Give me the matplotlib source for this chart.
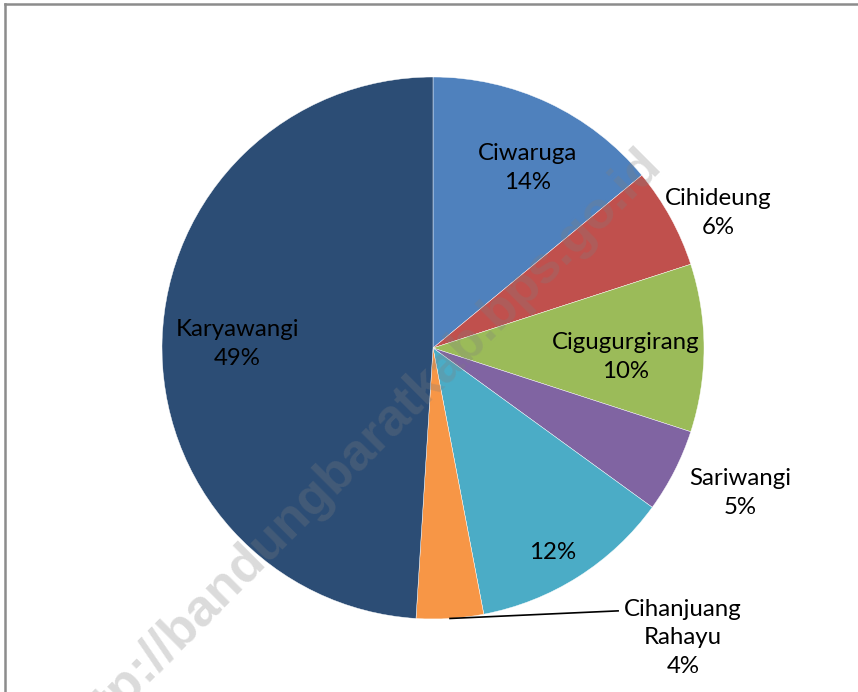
import numpy as np
import matplotlib.pyplot as plt
from matplotlib.lines import Line2D

# Data
desa = ['Ciwaruga', 'Cihideung', 'Cigugurgirang', 'Sariwangi', '',
        'Cihanjuang\nRahayu', 'Karyawangi']
persen = [14, 6, 10, 5, 12, 4, 49]
warna = ['#4F81BD', '#C0504D', '#9BBB59', '#8064A2', '#4BACC6',
         '#F79646', '#2C4D75']

# label positions (data units, radius = 1)
label_pos = [(0.347, 0.664), (1.052, 0.498), (0.712, -0.033),
             (1.133, -0.535), (0.443, -0.756), (0.923, -1.070),
             (-0.723, 0.015)]

fig = plt.figure(figsize=(8.58, 6.92), dpi=100)
R = 271.0
W, H = 858.0, 692.0
cx, cy = 433.0, 348.0
ax = fig.add_axes([(cx - 1.5 * R) / W, (H - cy - 1.3 * R) / H,
                   3 * R / W, 2.6 * R / H])

wedges, _ = ax.pie(persen, colors=warna, startangle=90, counterclock=False,
                   radius=1, center=(0, 0), frame=True,
                   wedgeprops=dict(edgecolor='white', linewidth=0.3))
ax.set_xlim(-1.5, 1.5)
ax.set_ylim(-1.3, 1.3)
ax.axis('off')

for nama, p, (x, y) in zip(desa, persen, label_pos):
    teks = f'{nama}\n{p}%' if nama else f'{p}%'
    ax.text(x, y, teks, ha='center', va='center', fontsize=17.3,
            family='Lato', color='black', linespacing=1.45, clip_on=False)

# leader line for Cihanjuang Rahayu
i = 5
mid = 90 - (sum(persen[:i]) + persen[i] / 2) / sum(persen) * 360
x0, y0 = np.cos(np.radians(mid)), np.sin(np.radians(mid))
ax.add_line(Line2D([x0, 0.683], [y0, -0.970], color='black', lw=1.2))

# watermark
ax.text(-0.269, -0.376, 'http://bandungbaratkab.bps.go.id', rotation=45,
        rotation_mode='anchor', ha='center', va='center', fontsize=37.5,
        family='Liberation Sans', weight='bold', color='#7f7f7f', alpha=0.28,
        clip_on=False, zorder=5)

# chart border (top and left only visible)
fig.add_artist(Line2D([4.5 / W, 4.5 / W], [0, 1 - 3.5 / H],
                      transform=fig.transFigure, color='#8c8c8c', lw=1.8))
fig.add_artist(Line2D([4.5 / W, 1], [1 - 3.5 / H, 1 - 3.5 / H],
                      transform=fig.transFigure, color='#8c8c8c', lw=1.8))

fig.savefig('out.png', dpi=100)
